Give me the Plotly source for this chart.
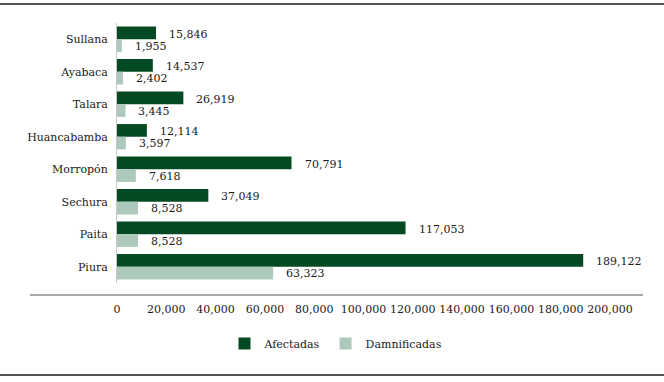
import plotly.graph_objects as go

categories = ["Sullana", "Ayabaca", "Talara", "Huancabamba", "Morropón", "Sechura", "Paita", "Piura"]
afectadas = [15846, 14537, 26919, 12114, 70791, 37049, 117053, 189122]
damnificadas = [1955, 2402, 3445, 3597, 7618, 8528, 8528, 63323]
x_ticks = [0, 20000, 40000, 60000, 80000, 100000, 120000, 140000, 160000, 180000, 200000]

DARK = "#034a22"
LIGHT = "#adc9bc"
TXT = "#1a1a1a"
FONT = "DejaVu Serif"
FS = 11

fig = go.Figure()
fig.add_trace(go.Bar(y=categories, x=afectadas, orientation="h", name="Afectadas",
                     marker=dict(color=DARK, line=dict(width=0))))
fig.add_trace(go.Bar(y=categories, x=damnificadas, orientation="h", name="Damnificadas",
                     marker=dict(color=LIGHT, line=dict(width=0))))

annotations = []
for c, a, d in zip(categories, afectadas, damnificadas):
    annotations.append(dict(x=a, y=c, text=f"{a:,}", showarrow=False, xanchor="left",
                            xshift=11, yshift=5, font=dict(family=FONT, size=FS, color=TXT)))
    annotations.append(dict(x=d, y=c, text=f"{d:,}", showarrow=False, xanchor="left",
                            xshift=11, yshift=-7, font=dict(family=FONT, size=FS, color=TXT)))

W, H = 664, 382
L, R, T, B = 117, 54, 23, 99
pw, ph = W - L - R, H - T - B

def px(x):
    return (x - L) / pw

def py(y):
    return (H - B - y) / ph

shapes = [
    dict(type="line", xref="paper", yref="paper", x0=px(0), x1=px(W), y0=py(4), y1=py(4),
         line=dict(color="#1a1a1a", width=1.5)),
    dict(type="line", xref="paper", yref="paper", x0=px(0), x1=px(W), y0=py(375), y1=py(375),
         line=dict(color="#1a1a1a", width=1.5)),
    dict(type="line", xref="paper", yref="paper", x0=px(30), x1=px(643), y0=py(295), y1=py(295),
         line=dict(color="#555555", width=1.2)),
]

fig.update_layout(
    width=W, height=H,
    margin=dict(l=L, r=R, t=T, b=B),
    paper_bgcolor="white", plot_bgcolor="white",
    barmode="group", bargap=0.22, bargroupgap=0,
    font=dict(family=FONT, size=FS, color=TXT),
    xaxis=dict(range=[0, 200000], tickvals=x_ticks, ticktext=[f"{v:,}" for v in x_ticks],
               showgrid=False, zeroline=False, showline=False, ticks="",
               ticklabelstandoff=18, tickfont=dict(family=FONT, size=FS, color=TXT)),
    yaxis=dict(autorange="reversed", showgrid=False, zeroline=False, showline=True,
               linecolor="#c8c8c8", linewidth=1, ticks="", ticklabelstandoff=6,
               tickfont=dict(family=FONT, size=FS, color=TXT)),
    legend=dict(orientation="h", x=px(336), xanchor="center", y=py(329), yanchor="top",
                font=dict(family=FONT, size=FS, color=TXT), itemwidth=30),
    shapes=shapes, annotations=annotations,
    showlegend=True,
)

fig.write_html("out.html", config={"displayModeBar": False},
               post_script="document.body.style.margin='0';document.body.style.overflow='hidden';document.documentElement.style.overflow='hidden';")
